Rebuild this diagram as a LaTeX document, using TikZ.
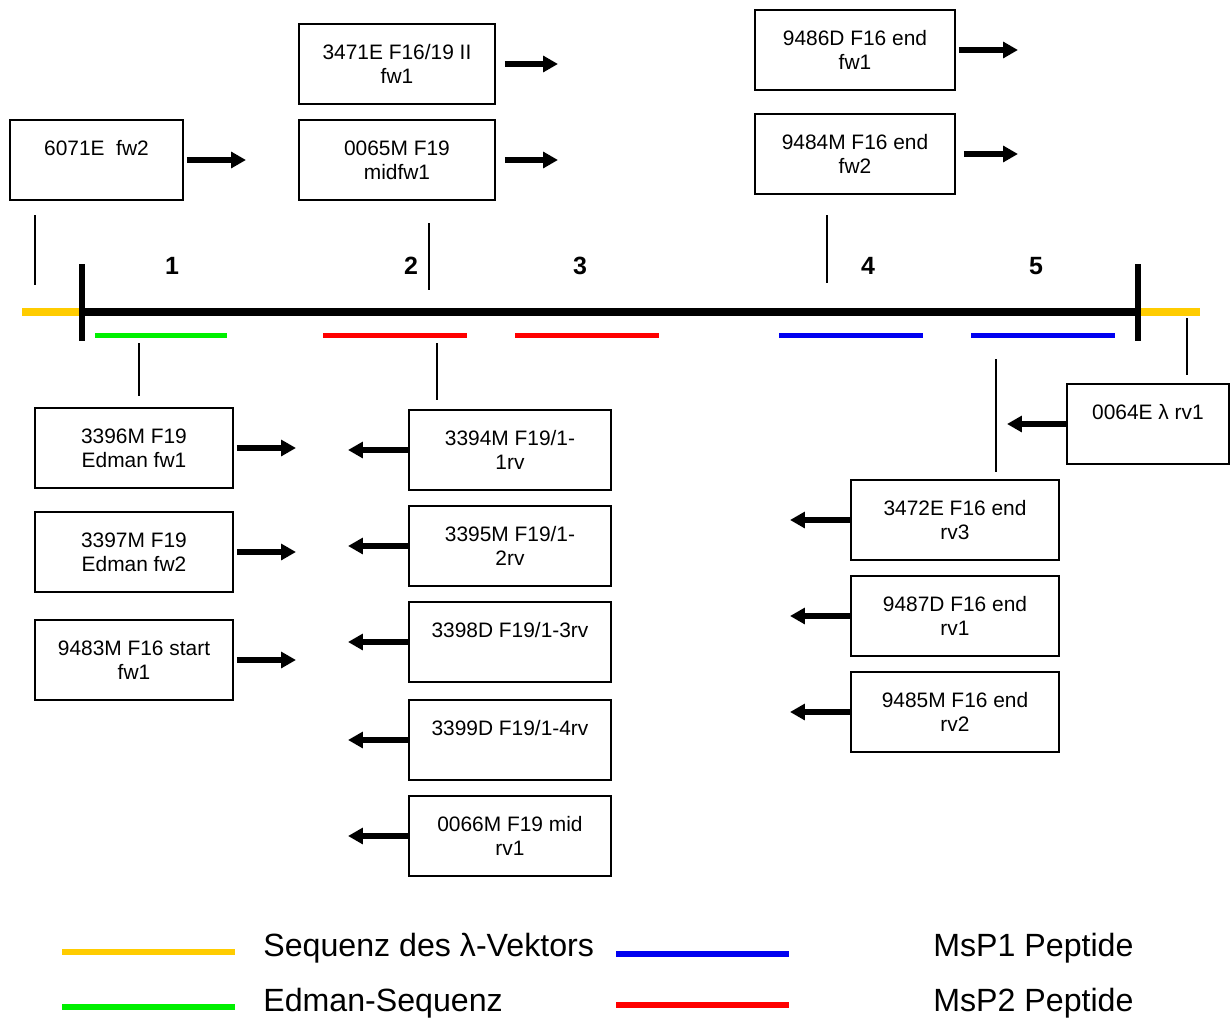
\documentclass[tikz,border=0pt]{standalone}
\usepackage{fontspec}
\setmainfont{Liberation Sans}
\usepackage{xcolor}
\usetikzlibrary{arrows.meta}
\definecolor{vecyellow}{RGB}{255,204,0}
\definecolor{edmgreen}{RGB}{0,240,0}
\definecolor{msred}{RGB}{255,0,0}
\definecolor{msblue}{RGB}{0,0,240}

\begin{document}
\begin{tikzpicture}[
x=0.02cm,
y=-0.02cm,
every node/.style={font=\fontsize{11.9}{13.6}\selectfont},
pbox/.style={rectangle,draw,line width=0.04cm,align=center,inner sep=0pt,minimum height=1.6cm,minimum width=#1},
parrow/.style={line width=0.12cm,-{Triangle[length=8.5pt,width=9pt]}},
pmark/.style={line width=0.03cm},
pnum/.style={font=\fontsize{14.2}{16}\selectfont\bfseries},
pseg/.style={line width=0.1cm},
plegend/.style={anchor=west,inner sep=0pt,font=\fontsize{18.3}{20}\selectfont}
]
\useasboundingbox (0,0) rectangle (1232,1021);

\node[pbox=3.46cm] (p6071) at (96.5,160) {6071E\ \ fw2\\\mbox{}};
\node[pbox=3.92cm] (p3471) at (397,64) {3471E F16/19 II\\fw1};
\node[pbox=3.92cm] (p0065) at (397,160) {0065M F19\\midfw1};
\node[pbox=4.0cm] (p9486) at (855,50) {9486D F16 end\\fw1};
\node[pbox=4.0cm] (p9484) at (855,154) {9484M F16 end\\fw2};

\draw[parrow] (p6071.east) ++(3,0) -- ++(59,0);
\draw[parrow] (p3471.east) ++(9,0) -- ++(53,0);
\draw[parrow] (p0065.east) ++(9,0) -- ++(53,0);
\draw[parrow] (p9486.east) ++(3,0) -- ++(59,0);
\draw[parrow] (p9484.east) ++(8,0) -- ++(54,0);

\draw[pmark] (35,215) -- (35,285);
\draw[pmark] (429,223) -- (429,290);
\draw[pmark] (827,215) -- (827,283);

\node[pnum] (n1) at (172,266) {1};
\node[pnum] (n2) at (411,266) {2};
\node[pnum] (n3) at (580,266) {3};
\node[pnum] (n4) at (868,266) {4};
\node[pnum] (n5) at (1036,266) {5};

\draw[vecyellow,line width=0.17cm] (22,312) -- (82,312);
\draw[vecyellow,line width=0.17cm] (1138,312) -- (1200,312);
\draw[line width=0.16cm] (82,312) -- (1138,312);
\draw[line width=0.13cm] (82,264) -- (82,341);
\draw[line width=0.13cm] (1138,264) -- (1138,341);

\draw[pseg,edmgreen] (95,335) -- (227,335);
\draw[pseg,msred] (323,335) -- (467,335);
\draw[pseg,msred] (515,335) -- (659,335);
\draw[pseg,msblue] (779,335) -- (923,335);
\draw[pseg,msblue] (971,335) -- (1115,335);

\draw[pmark] (139,343) -- (139,396);
\draw[pmark] (437,343) -- (437,400);
\draw[pmark] (996,359) -- (996,472);
\draw[pmark] (1187,318) -- (1187,375);

\node[pbox=3.96cm] (p3396) at (134,448) {3396M F19\\Edman fw1};
\node[pbox=3.96cm] (p3397) at (134,552) {3397M F19\\Edman fw2};
\node[pbox=3.96cm] (p9483) at (134,660) {9483M F16 start\\fw1};
\draw[parrow] (p3396.east) ++(3,0) -- ++(59,0);
\draw[parrow] (p3397.east) ++(3,0) -- ++(59,0);
\draw[parrow] (p9483.east) ++(3,0) -- ++(59,0);

\node[pbox=4.04cm] (p3394) at (510,450) {3394M F19/1-\\1rv};
\node[pbox=4.04cm] (p3395) at (510,546) {3395M F19/1-\\2rv};
\node[pbox=4.04cm] (p3398) at (510,642) {3398D F19/1-3rv\\\mbox{}};
\node[pbox=4.04cm] (p3399) at (510,740) {3399D F19/1-4rv\\\mbox{}};
\node[pbox=4.04cm] (p0066) at (510,836) {0066M F19 mid\\rv1};
\draw[parrow] (p3394.west) -- ++(-60,0);
\draw[parrow] (p3395.west) -- ++(-60,0);
\draw[parrow] (p3398.west) -- ++(-60,0);
\draw[parrow] (p3399.west) -- ++(-60,0);
\draw[parrow] (p0066.west) -- ++(-60,0);

\node[pbox=3.24cm] (p0064) at (1148,424) {0064E λ rv1\\\mbox{}};
\node[pbox=4.16cm] (p3472) at (955,520) {3472E F16 end\\rv3};
\node[pbox=4.16cm] (p9487) at (955,616) {9487D F16 end\\rv1};
\node[pbox=4.16cm] (p9485) at (955,712) {9485M F16 end\\rv2};
\draw[parrow] (p0064.west) -- ++(-59,0);
\draw[parrow] (p3472.west) -- ++(-60,0);
\draw[parrow] (p9487.west) -- ++(-60,0);
\draw[parrow] (p9485.west) -- ++(-60,0);

\draw[vecyellow,line width=0.12cm] (62,952) -- (235,952);
\draw[edmgreen,line width=0.12cm] (62,1007) -- (235,1007);
\draw[msblue,line width=0.12cm] (616,954) -- (789,954);
\draw[msred,line width=0.12cm] (616,1005) -- (789,1005);
\node[plegend] (lvec) at (263,948) {Sequenz des λ-Vektors};
\node[plegend] (ledm) at (263,1003) {Edman-Sequenz};
\node[plegend] (lms1) at (933,948) {MsP1 Peptide};
\node[plegend] (lms2) at (933,1003) {MsP2 Peptide};
\end{tikzpicture}
\end{document}
